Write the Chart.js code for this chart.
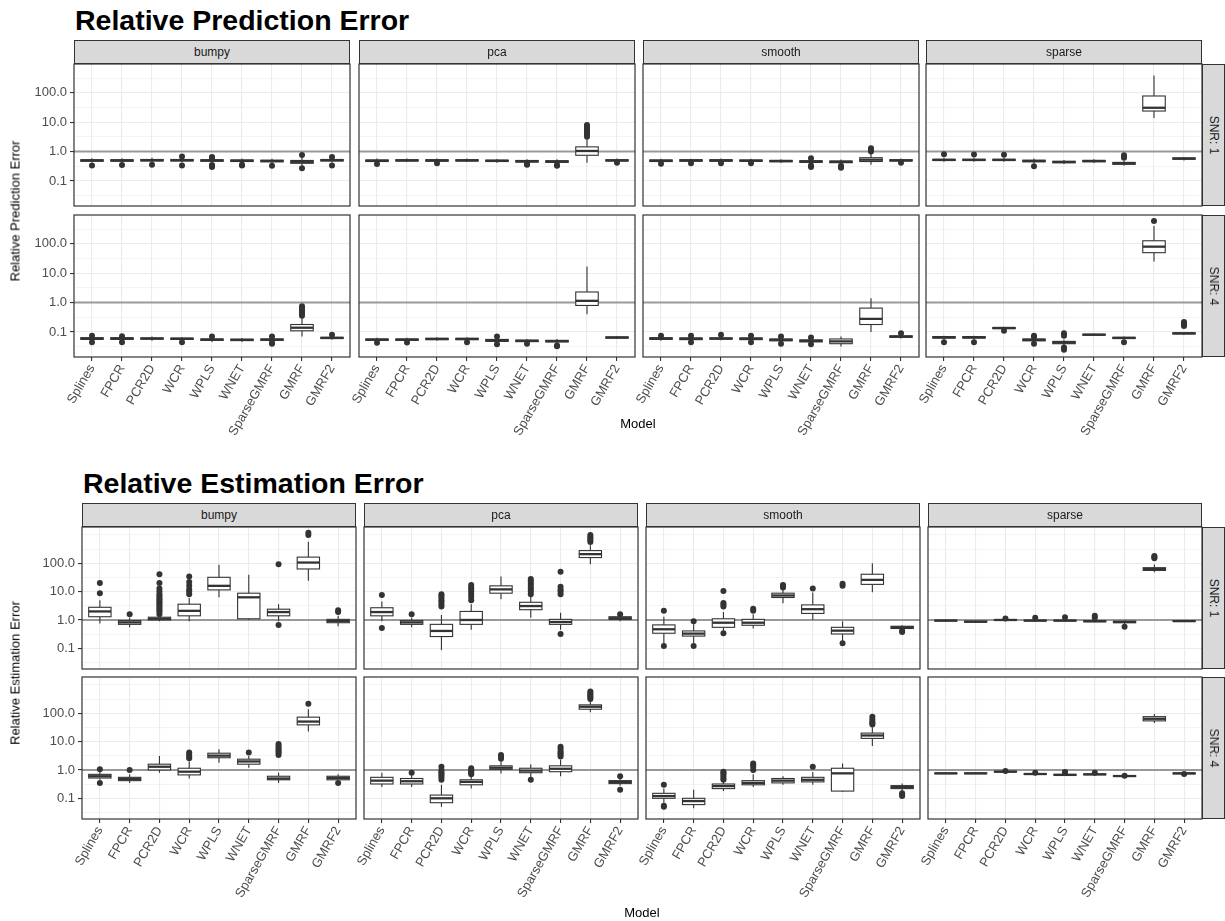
<!DOCTYPE html>
<html>
<head>
<meta charset="utf-8">
<script src="https://cdn.jsdelivr.net/npm/chart.js@4.4.0/dist/chart.umd.min.js"></script>
<style>
  body { margin: 0; background: #fff; font-family: "Liberation Sans", Arial, sans-serif; }
  #page { position: relative; width: 1225px; height: 921px; overflow: hidden; }
  canvas, .txt, .strip { position: absolute; }
  .strip { background: #d9d9d9; border: 1px solid #333; box-sizing: border-box; color: #1a1a1a; font-size: 12px; }
  .strip span { position: absolute; left: 50%; top: 50%; white-space: nowrap; }
  .txt { white-space: nowrap; line-height: 1; font-weight: normal; }
</style>
</head>
<body>
<div id="page"></div>
<script>
const models = ['Splines', 'FPCR', 'PCR2D', 'WCR', 'WPLS', 'WNET', 'SparseGMRF', 'GMRF', 'GMRF2'];
const facets = ['bumpy', 'pca', 'smooth', 'sparse'];
const snrLabels = ['SNR: 1', 'SNR: 4'];
const yMajor = [0.1, 1, 10, 100];
const yMinorPred = [10 ** -1.5, 10 ** -0.5, 10 ** 0.5, 10 ** 1.5, 10 ** 2.5];
const yMinorEst = [10 ** -1.5, 10 ** -0.5, 10 ** 0.5, 10 ** 1.5, 10 ** 2.5, 1000];

// each box: [lower whisker, q1, median, q3, upper whisker, [outliers]]
const predBumpy1 = [
  [0.43, 0.47, 0.5, 0.53, 0.6, [0.34]],
  [0.43, 0.47, 0.5, 0.53, 0.6, [0.35]],
  [0.44, 0.48, 0.51, 0.54, 0.62, [0.36]],
  [0.43, 0.48, 0.51, 0.54, 0.6, [0.68, 0.34]],
  [0.42, 0.47, 0.5, 0.53, 0.6, [0.66, 0.62, 0.35, 0.32, 0.3]],
  [0.42, 0.46, 0.49, 0.52, 0.58, [0.36, 0.34]],
  [0.41, 0.45, 0.48, 0.51, 0.57, [0.33]],
  [0.32, 0.4, 0.45, 0.5, 0.62, [0.77, 0.27]],
  [0.43, 0.48, 0.51, 0.54, 0.6, [0.66, 0.34]]
];
const predPca1 = [
  [0.42, 0.46, 0.49, 0.52, 0.58, [0.38]],
  [0.44, 0.48, 0.5, 0.53, 0.58, []],
  [0.43, 0.47, 0.5, 0.53, 0.58, [0.4]],
  [0.44, 0.48, 0.5, 0.53, 0.58, []],
  [0.42, 0.46, 0.49, 0.51, 0.56, []],
  [0.4, 0.44, 0.47, 0.5, 0.55, [0.36, 0.38]],
  [0.38, 0.43, 0.46, 0.49, 0.55, [0.33, 0.35]],
  [0.42, 0.75, 1.05, 1.45, 2.6, [3.2, 3.8, 4.5, 5.2, 6, 7, 8]],
  [0.44, 0.48, 0.5, 0.53, 0.58, [0.42]]
];
const predSmooth1 = [
  [0.42, 0.46, 0.49, 0.52, 0.57, [0.39]],
  [0.43, 0.47, 0.5, 0.53, 0.57, [0.4]],
  [0.43, 0.47, 0.5, 0.53, 0.58, [0.4]],
  [0.43, 0.47, 0.49, 0.52, 0.57, [0.4]],
  [0.41, 0.45, 0.48, 0.5, 0.55, []],
  [0.38, 0.43, 0.46, 0.49, 0.55, [0.6, 0.3, 0.34]],
  [0.37, 0.42, 0.45, 0.48, 0.54, [0.3, 0.28, 0.33]],
  [0.36, 0.46, 0.53, 0.62, 0.85, [1.0, 1.15, 1.3]],
  [0.44, 0.48, 0.5, 0.53, 0.58, [0.42]]
];
const predSparse1 = [
  [0.45, 0.5, 0.52, 0.55, 0.62, [0.81]],
  [0.45, 0.5, 0.52, 0.55, 0.62, [0.8]],
  [0.45, 0.5, 0.52, 0.55, 0.62, [0.78]],
  [0.4, 0.45, 0.48, 0.51, 0.58, [0.32]],
  [0.38, 0.42, 0.44, 0.47, 0.52, []],
  [0.41, 0.45, 0.48, 0.5, 0.55, []],
  [0.33, 0.37, 0.4, 0.43, 0.48, [0.75, 0.68, 0.62]],
  [14, 24, 31, 78, 390, []],
  [0.5, 0.55, 0.58, 0.61, 0.66, []]
];
const predBumpy4 = [
  [0.05, 0.056, 0.06, 0.064, 0.07, [0.075, 0.045]],
  [0.05, 0.056, 0.06, 0.064, 0.07, [0.072, 0.045]],
  [0.05, 0.057, 0.06, 0.063, 0.07, []],
  [0.05, 0.056, 0.059, 0.062, 0.068, [0.045]],
  [0.046, 0.052, 0.055, 0.058, 0.064, [0.07]],
  [0.046, 0.051, 0.054, 0.057, 0.062, []],
  [0.046, 0.052, 0.055, 0.058, 0.064, [0.07, 0.043, 0.04]],
  [0.07, 0.11, 0.14, 0.18, 0.3, [0.36, 0.42, 0.48, 0.54, 0.6, 0.66, 0.75]],
  [0.055, 0.06, 0.063, 0.066, 0.072, [0.08]]
];
const predPca4 = [
  [0.046, 0.052, 0.055, 0.058, 0.064, [0.043]],
  [0.046, 0.052, 0.055, 0.058, 0.064, [0.044]],
  [0.05, 0.055, 0.058, 0.061, 0.066, []],
  [0.05, 0.055, 0.058, 0.061, 0.066, [0.045]],
  [0.042, 0.048, 0.052, 0.056, 0.062, [0.07, 0.038]],
  [0.042, 0.047, 0.05, 0.053, 0.058, [0.04]],
  [0.04, 0.046, 0.049, 0.052, 0.058, [0.035, 0.033]],
  [0.4, 0.8, 1.15, 2.3, 17, []],
  [0.058, 0.062, 0.065, 0.068, 0.072, []]
];
const predSmooth4 = [
  [0.05, 0.056, 0.06, 0.064, 0.07, [0.075]],
  [0.05, 0.055, 0.059, 0.063, 0.07, [0.075, 0.045]],
  [0.052, 0.057, 0.06, 0.063, 0.07, [0.08]],
  [0.05, 0.055, 0.059, 0.063, 0.07, [0.075, 0.045]],
  [0.044, 0.05, 0.054, 0.058, 0.064, [0.07, 0.04]],
  [0.04, 0.046, 0.05, 0.054, 0.06, [0.065, 0.038]],
  [0.032, 0.04, 0.048, 0.058, 0.07, []],
  [0.1, 0.18, 0.28, 0.65, 1.4, []],
  [0.06, 0.066, 0.07, 0.074, 0.08, [0.09]]
];
const predSparse4 = [
  [0.055, 0.062, 0.066, 0.07, 0.075, [0.045]],
  [0.055, 0.062, 0.066, 0.07, 0.075, [0.045]],
  [0.12, 0.13, 0.137, 0.142, 0.15, [0.11]],
  [0.045, 0.05, 0.054, 0.058, 0.064, [0.075, 0.068, 0.04]],
  [0.035, 0.04, 0.044, 0.048, 0.055, [0.09, 0.075, 0.03, 0.025]],
  [0.075, 0.078, 0.081, 0.084, 0.088, []],
  [0.055, 0.06, 0.063, 0.066, 0.07, [0.045]],
  [25, 50, 80, 127, 400, [600]],
  [0.08, 0.086, 0.09, 0.094, 0.1, [0.22, 0.2, 0.18, 0.16]]
];

const estBumpy1 = [
  [0.75, 1.3, 2.0, 2.8, 5, [8.8, 20]],
  [0.55, 0.7, 0.82, 0.95, 1.2, [1.6]],
  [0.9, 1.0, 1.1, 1.25, 1.45, [1.6, 1.9, 2.2, 2.6, 3, 3.5, 4, 4.6, 5.3, 6, 7, 8, 10, 13, 20, 41]],
  [0.9, 1.4, 2.1, 3.6, 6, [8, 10, 12, 16, 22, 34]],
  [6.3, 11.5, 16, 32, 88, []],
  [1.0, 1.1, 6.3, 8.8, 39, []],
  [0.9, 1.4, 1.9, 2.4, 3.6, [93, 0.66]],
  [24, 63, 106, 165, 580, [1000, 1200]],
  [0.6, 0.8, 0.92, 1.05, 1.4, [1.9, 2.2]]
];
const estPca1 = [
  [0.9, 1.4, 1.9, 2.7, 4.5, [7.6, 0.52]],
  [0.55, 0.7, 0.82, 0.95, 1.2, [1.6]],
  [0.087, 0.26, 0.41, 0.7, 1.5, [3, 3.6, 4.3, 5, 6, 7, 8]],
  [0.45, 0.7, 1.0, 2.0, 3.6, [5, 6.5, 8, 10, 12, 14, 17]],
  [5.4, 8.8, 12, 16, 34, []],
  [1.2, 2.3, 3.1, 4.2, 7, [8, 10, 12, 14, 17, 20, 24, 28]],
  [0.45, 0.7, 0.85, 1.05, 1.8, [8, 10, 12, 15, 50, 0.32]],
  [93, 159, 210, 280, 430, [560, 650, 750, 860, 1000]],
  [0.9, 1.05, 1.15, 1.3, 1.45, [1.6]]
];
const estSmooth1 = [
  [0.15, 0.34, 0.47, 0.67, 1.3, [2.1, 0.12]],
  [0.15, 0.27, 0.33, 0.41, 0.7, [0.9, 0.12]],
  [0.38, 0.55, 0.8, 1.1, 1.9, [3, 3.5, 4, 10.6, 0.34]],
  [0.5, 0.65, 0.8, 1.05, 1.6, [2.1, 2.5]],
  [3.9, 6.2, 7.3, 8.8, 12, [14, 16, 17]],
  [1.0, 1.7, 2.4, 3.4, 9.3, [13]],
  [0.18, 0.32, 0.42, 0.55, 0.9, [16, 19, 0.15]],
  [9.5, 18, 26, 41, 100, []],
  [0.45, 0.5, 0.55, 0.6, 0.65, [0.42, 0.38]]
];
const estSparse1 = [
  [0.88, 0.92, 0.95, 0.98, 1.02, []],
  [0.8, 0.84, 0.87, 0.9, 0.95, []],
  [0.92, 0.97, 1.0, 1.03, 1.07, [1.12]],
  [0.88, 0.92, 0.95, 0.98, 1.02, [1.2]],
  [0.88, 0.92, 0.95, 0.98, 1.02, [1.25]],
  [0.83, 0.87, 0.9, 0.93, 0.98, [1.4, 1.2]],
  [0.72, 0.8, 0.85, 0.9, 0.95, [0.58]],
  [48, 56, 62, 70, 90, [150, 165, 180]],
  [0.86, 0.89, 0.91, 0.93, 0.96, []]
];
const estBumpy4 = [
  [0.45, 0.52, 0.6, 0.7, 0.85, [1.05, 0.35]],
  [0.35, 0.42, 0.48, 0.55, 0.7, [1.0]],
  [0.8, 1.0, 1.3, 1.6, 3.1, []],
  [0.5, 0.67, 0.87, 1.15, 2.0, [2.6, 3, 3.5, 4.1]],
  [1.8, 2.7, 3.2, 3.9, 5.4, []],
  [1.2, 1.6, 2.0, 2.4, 3.2, [4.1]],
  [0.35, 0.45, 0.5, 0.6, 0.8, [3.4, 4, 4.6, 5.2, 6, 7, 8.3]],
  [22.6, 39, 51, 73, 139, [215]],
  [0.4, 0.45, 0.52, 0.6, 0.7, [0.35]]
];
const estPca4 = [
  [0.25, 0.32, 0.42, 0.55, 0.8, []],
  [0.25, 0.32, 0.4, 0.5, 0.65, [0.8]],
  [0.05, 0.07, 0.1, 0.13, 0.3, [0.45, 0.55, 0.65, 0.75, 0.85, 1.0, 1.3]],
  [0.22, 0.3, 0.38, 0.45, 0.6, [0.7, 0.8, 0.9, 1.0, 1.15]],
  [0.75, 1.05, 1.2, 1.4, 2.0, [2.5, 2.9, 3.4]],
  [0.55, 0.8, 0.95, 1.15, 1.6, [0.45]],
  [0.6, 0.87, 1.1, 1.4, 2.3, [3, 3.5, 4, 4.5, 5.5, 6.6]],
  [109, 139, 170, 198, 280, [320, 360, 410, 460, 520, 590]],
  [0.28, 0.33, 0.38, 0.42, 0.5, [0.6, 0.2]]
];
const estSmooth4 = [
  [0.07, 0.1, 0.12, 0.15, 0.22, [0.3, 0.05, 0.055]],
  [0.045, 0.06, 0.08, 0.1, 0.2, []],
  [0.18, 0.22, 0.27, 0.32, 0.4, [0.45, 0.5, 0.6, 0.7, 0.8, 0.87]],
  [0.25, 0.3, 0.35, 0.42, 0.7, [1.0, 1.3, 1.5, 1.7]],
  [0.3, 0.35, 0.42, 0.5, 0.6, []],
  [0.3, 0.38, 0.45, 0.55, 0.85, [1.3]],
  [0.17, 0.18, 0.76, 1.15, 1.7, []],
  [7, 13, 16.5, 20, 32, [40, 45, 50, 60, 76]],
  [0.18, 0.22, 0.25, 0.28, 0.33, [0.15, 0.13, 0.12]]
];
const estSparse4 = [
  [0.72, 0.74, 0.76, 0.78, 0.8, []],
  [0.72, 0.74, 0.76, 0.78, 0.8, []],
  [0.82, 0.85, 0.87, 0.89, 0.92, [0.92]],
  [0.68, 0.7, 0.72, 0.74, 0.77, [0.8]],
  [0.63, 0.65, 0.67, 0.7, 0.73, [0.8, 0.85]],
  [0.65, 0.68, 0.7, 0.72, 0.75, [0.8]],
  [0.57, 0.59, 0.61, 0.63, 0.66, [0.63]],
  [45, 54, 64, 76, 95, []],
  [0.7, 0.73, 0.76, 0.78, 0.8, [0.72]]
];

Chart.defaults.font.family = '"Liberation Sans", Arial, sans-serif';

const page = document.getElementById('page');

const figures = [
  {
    title: 'Relative Prediction Error', yTitle: 'Relative Prediction Error',
    lefts: [74, 359, 643, 926], width: 276, tops: [64, 215], height: 142,
    stripTop: 40, titleY: 20, modelY: 423,
    yMin: 10 ** -1.85, yMax: 10 ** 2.98, minors: yMinorPred,
    panels: [[predBumpy1, predPca1, predSmooth1, predSparse1], [predBumpy4, predPca4, predSmooth4, predSparse4]]
  },
  {
    title: 'Relative Estimation Error', yTitle: 'Relative Estimation Error',
    lefts: [82, 364, 646, 928], width: 274, tops: [527, 677], height: 142,
    stripTop: 503, titleY: 483, modelY: 912,
    yMin: 10 ** -1.73, yMax: 10 ** 3.28, minors: yMinorEst,
    panels: [[estBumpy1, estPca1, estSmooth1, estSparse1], [estBumpy4, estPca4, estSmooth4, estSparse4]]
  }
];

function addText(str, x, y, css, anchor) {
  const d = document.createElement('div');
  d.className = 'txt';
  d.textContent = str;
  d.style.left = x + 'px';
  d.style.top = y + 'px';
  d.style.cssText += css;
  d.style.transform = anchor;
  page.appendChild(d);
}

function addStrip(label, x, y, w, h, vertical) {
  const d = document.createElement('div');
  d.className = 'strip';
  d.style.left = x + 'px'; d.style.top = y + 'px';
  d.style.width = w + 'px'; d.style.height = h + 'px';
  const s = document.createElement('span');
  s.textContent = label;
  s.style.transform = vertical ? 'translate(-50%,-50%) rotate(90deg)' : 'translate(-50%,-50%)';
  d.appendChild(s);
  page.appendChild(d);
}

function boxPlugin(boxes) {
  return {
    id: 'boxes',
    beforeDatasetsDraw(chart) {
      const { ctx, chartArea: a, scales: { x, y } } = chart;
      ctx.save();
      ctx.beginPath();
      ctx.rect(a.left, a.top, a.right - a.left, a.bottom - a.top);
      ctx.clip();
      const y1 = y.getPixelForValue(1);
      ctx.strokeStyle = '#999999';
      ctx.lineWidth = 2;
      ctx.beginPath(); ctx.moveTo(a.left, y1); ctx.lineTo(a.right, y1); ctx.stroke();
      const hw = x.getPixelForValue(0.375) - x.getPixelForValue(0);
      ctx.strokeStyle = '#333333';
      boxes.forEach((b, i) => {
        const cx = x.getPixelForValue(i);
        const [lo, q1, md, q3, hi] = b.slice(0, 5).map(v => y.getPixelForValue(v));
        ctx.lineWidth = 1.1;
        ctx.beginPath();
        ctx.moveTo(cx, hi); ctx.lineTo(cx, q3);
        ctx.moveTo(cx, q1); ctx.lineTo(cx, lo);
        ctx.stroke();
        ctx.fillStyle = '#ffffff';
        ctx.fillRect(cx - hw, q3, 2 * hw, q1 - q3);
        ctx.strokeRect(cx - hw, q3, 2 * hw, q1 - q3);
        ctx.lineWidth = 2.3;
        ctx.beginPath(); ctx.moveTo(cx - hw, md); ctx.lineTo(cx + hw, md); ctx.stroke();
      });
      ctx.restore();
    },
    afterDatasetsDraw(chart) {
      const { ctx, chartArea: a } = chart;
      ctx.save();
      ctx.strokeStyle = '#333333';
      ctx.lineWidth = 1.2;
      ctx.strokeRect(a.left, a.top, a.right - a.left, a.bottom - a.top);
      ctx.restore();
    }
  };
}

function zeroPad(s) {
  s.paddingLeft = 0; s.paddingRight = 0; s.paddingTop = 0; s.paddingBottom = 0;
}

function makePanel(fig, row, col, boxes) {
  const padL = col === 0 ? 74 : 24;
  const padT = 6, padR = 6;
  const padB = row === 1 ? 96 : 6;
  const yAxisW = col === 0 ? 44 : 0;
  const xAxisH = row === 1 ? 80 : 0;
  const canvas = document.createElement('canvas');
  canvas.width = padL + fig.width + padR;
  canvas.height = padT + fig.height + padB;
  canvas.style.left = (fig.lefts[col] - padL) + 'px';
  canvas.style.top = (fig.tops[row] - padT) + 'px';
  page.appendChild(canvas);

  const points = boxes.flatMap((b, i) => b[5].map(v => ({ x: i, y: v })));
  const yTicks = yMajor.map(v => ({ value: v }))
    .concat(fig.minors.map(v => ({ value: v, minor: true })))
    .sort((p, q) => p.value - q.value);

  new Chart(canvas, {
    type: 'scatter',
    data: {
      datasets: [{
        data: points,
        pointRadius: 3,
        pointHoverRadius: 3,
        backgroundColor: '#333333',
        borderWidth: 0
      }]
    },
    options: {
      responsive: false,
      animation: false,
      events: [],
      layout: { padding: { left: padL - yAxisW, top: padT, right: padR, bottom: padB - xAxisH } },
      plugins: { legend: { display: false }, tooltip: { enabled: false } },
      scales: {
        x: {
          type: 'linear', min: -0.6, max: 8.6, bounds: 'data',
          afterBuildTicks: s => { s.ticks = models.map((m, i) => ({ value: i })); },
          afterFit: s => { s.height = xAxisH; zeroPad(s); },
          border: { display: false },
          grid: { color: '#ebebeb', lineWidth: 1.1, drawTicks: row === 1, tickLength: 4, tickColor: '#333333', tickWidth: 1.1 },
          ticks: {
            display: row === 1, autoSkip: false, minRotation: 60, maxRotation: 60, padding: 1,
            color: '#4d4d4d', font: { size: 13 },
            callback: v => models[v]
          }
        },
        y: {
          type: 'logarithmic', min: fig.yMin, max: fig.yMax, bounds: 'data',
          afterBuildTicks: s => { s.ticks = yTicks.map(t => Object.assign({}, t)); },
          afterFit: s => { s.width = yAxisW; zeroPad(s); },
          border: { display: false },
          grid: {
            color: '#ebebeb',
            lineWidth: c => (c.tick && c.tick.minor ? 0.55 : 1.1),
            drawTicks: col === 0, tickLength: 4, tickWidth: 1.1,
            tickColor: c => (c.tick && c.tick.minor ? 'rgba(0,0,0,0)' : '#333333')
          },
          ticks: {
            display: col === 0, autoSkip: false, padding: 3,
            color: '#4d4d4d', font: { size: 13 },
            callback: (v, i, ticks) => (ticks[i].minor ? '' : Number(v).toFixed(1))
          }
        }
      }
    },
    plugins: [boxPlugin(boxes)]
  });
}

figures.forEach(fig => {
  fig.panels.forEach((rowData, row) => {
    rowData.forEach((boxes, col) => makePanel(fig, row, col, boxes));
  });
  facets.forEach((f, col) => addStrip(f, fig.lefts[col], fig.stripTop, fig.width, fig.tops[0] - fig.stripTop, false));
  snrLabels.forEach((s, row) => {
    const x = fig.lefts[3] + fig.width;
    addStrip(s, x, fig.tops[row], 1225 - x, fig.height, true);
  });
  addText(fig.title, fig.lefts[0] + 1, fig.titleY, 'font-size:28.5px;font-weight:bold;color:#000;', 'translateY(-50%)');
  const yMid = (fig.tops[0] + fig.tops[1] + fig.height) / 2;
  addText(fig.yTitle, 15, yMid, 'font-size:13px;color:#000;', 'translate(-50%,-50%) rotate(-90deg)');
  const xMid = (fig.lefts[0] + fig.lefts[3] + fig.width) / 2;
  addText('Model', xMid, fig.modelY, 'font-size:13px;color:#000;', 'translate(-50%,-50%)');
});
</script>
</body>
</html>
